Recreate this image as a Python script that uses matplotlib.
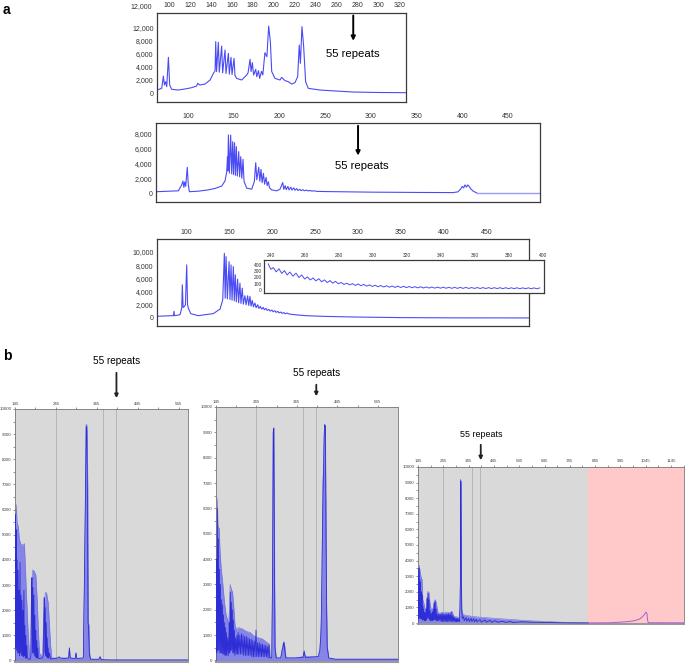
import matplotlib
matplotlib.use('Agg')
import matplotlib.pyplot as plt
from matplotlib.transforms import blended_transform_factory

plt.rcParams['font.family'] = ['Liberation Sans', 'DejaVu Sans']

# ---- panel a, top trace (size in bp, signal) ----
a1_trace = [(88.5, 460), (91, 600), (93, 720), (94.6, 2600), (95.6, 1230), (96.8, 1740), (97.8, 970),
            (99.4, 5490), (100.6, 1230), (102.5, 570), (108.9, 460), (115.3, 620), (121.6, 820),
            (126.4, 1070), (127.3, 1490), (129.5, 1230), (134.4, 1380), (139.2, 2000), (142.4, 3030),
            (144.0, 3400), (144.6, 7900), (145.4, 3300), (147.1, 7800), (148.0, 3200), (150.3, 7230),
            (151.2, 3100), (153.5, 6610), (154.4, 3000), (156.7, 6100), (157.6, 2900), (159.2, 5490),
            (160.2, 2850), (162.1, 5330), (163.0, 2700), (164.6, 2250), (169.4, 2000), (174.2, 2770),
            (175.5, 3100), (177.4, 5180), (178.4, 3300), (179.6, 4670), (180.8, 2770), (182.8, 3640),
            (183.8, 2510), (185.4, 3430), (186.6, 2250), (188.3, 3330), (189.6, 2770), (191.6, 6200),
            (193.5, 5590), (195.2, 10300), (196.8, 7900), (198.1, 3300), (201.2, 2250), (206, 2000),
            (207.6, 2400), (210.8, 1900), (214, 1740), (217.2, 1380), (220.3, 1590), (222.9, 2510),
            (224.4, 7380), (225.5, 4560), (227, 10200), (228.6, 7180), (230.5, 1740), (233, 720),
            (244, 460), (260, 300), (276, 150), (300, 80), (326, 50)]

# ---- panel a, middle trace ----
a2_trace = [(65.5, 180), (89.4, 300), (93.1, 1080), (94.5, 1630), (95.5, 770), (96.5, 1500), (97.5, 900),
            (99.2, 3490), (100.3, 1200), (101.5, 180), (111.3, 250), (122.3, 430), (129.6, 620),
            (136.9, 950), (140.5, 1630), (142.4, 2890), (143.2, 4900), (143.6, 3000), (144.2, 7860),
            (145.3, 2700), (146.7, 7860), (147.8, 2600), (148.9, 6960), (149.8, 2500), (150.9, 6830),
            (151.9, 2400), (152.9, 6290), (154.0, 2300), (155.5, 5610), (156.5, 2200), (157.7, 4930),
            (158.9, 2000), (160.2, 4570), (161.3, 1600), (164.2, 660), (169.7, 520), (172.6, 1560),
            (174.1, 4110), (175.3, 1800), (177.4, 3480), (178.6, 1600), (179.9, 3210), (181.1, 1400),
            (182.5, 2670), (183.8, 1200), (185.4, 2120), (186.6, 1000), (187.9, 1530), (189.2, 700),
            (191.6, 430), (197, 300), (200.7, 520), (203.6, 1420), (204.8, 500), (206.3, 1000),
            (207.5, 450), (209.3, 900), (210.5, 420), (212.5, 800), (213.7, 400), (215.8, 700),
            (217, 380), (219, 600), (220.2, 350), (222.3, 500), (223.5, 330), (226, 450), (227.2, 300),
            (230, 400), (231.3, 280), (234, 350), (235.3, 260), (238.5, 300), (240, 230), (250, 200),
            (300, 120), (350, 80), (390, 60), (395, 150), (398, 500), (400, 900), (401.5, 700),
            (403, 1100), (404.5, 800), (406, 1100), (407.5, 900), (409, 600), (412, 250), (416, 0)]
a2_tail = [(416, 0), (485, 0)]

# ---- panel a, bottom trace ----
a3_trace = [(65, 260), (82.5, 350), (84.5, 350), (85.1, 1010), (85.8, 350), (92.2, 500), (94.2, 1500),
            (94.9, 5030), (95.8, 1600), (97, 1700), (98.5, 2000), (100, 8050), (101, 2000), (101.9, 1510),
            (104.7, 660), (113.6, 350), (121.4, 500), (131.1, 660), (139, 1360), (142.1, 2760),
            (144, 9800), (145, 3000), (146, 9300), (147.5, 2900), (149.5, 8540), (150.6, 2800),
            (151.8, 8040), (153, 2700), (154.5, 7790), (155.6, 2600), (156.8, 6540), (158, 2450),
            (159.5, 5880), (160.7, 2300), (162.2, 5280), (163.4, 2200), (164.9, 4520), (166.2, 2100),
            (168, 3370), (169.4, 2000), (171.2, 3370), (172.5, 1900), (173.9, 3270), (175.2, 1800),
            (176.6, 2660), (178, 1700), (179.7, 2260), (181.1, 1550), (182.9, 2010), (184.3, 1450),
            (186, 1760), (187.5, 1350), (189.3, 1600), (190.7, 1250), (192.5, 1450), (194, 1150),
            (196, 1300), (197.5, 1050), (199.5, 1200), (201, 950), (203, 1100), (204.5, 850),
            (206.5, 1000), (208, 780), (210, 900), (211.5, 700), (213.5, 820), (215, 640), (217, 750),
            (220, 600), (225, 520), (230, 450), (240, 350), (260, 250), (295, 150), (350, 60),
            (411, 20), (500, 10)]

# inset: repeat peaks 240-400 bp
inset_peak_x = [238.5, 241.5, 244.8, 248, 251.2, 254.8, 258.2, 261.5, 264.8, 268.2, 271.5, 274.8, 278,
                281.3, 284.7, 288, 291.3, 294.6, 298, 301.3, 304.6, 308, 311.3, 314.6, 318, 321.3,
                324.6, 328, 331.3, 334.6, 338, 341.3, 344.6, 348, 351.3, 354.6, 358, 361.3, 364.6,
                368, 371.3, 374.6, 378, 381.3, 384.6, 388, 391.3, 394.6, 398]
inset_peak_y = [418, 358, 340, 310, 287, 269, 239, 209, 191, 179, 161, 149, 137, 119, 107, 100, 95, 88,
                80, 75, 70, 66, 62, 60, 58, 55, 52, 50, 48, 47, 45, 44, 42, 41, 40, 40, 38, 38, 37,
                36, 36, 35, 35, 34, 34, 33, 33, 32, 32]
inset_valley_y = [330, 290, 265, 240, 220, 200, 175, 160, 145, 130, 118, 108, 98, 88, 80, 72, 66, 60,
                  55, 50, 46, 43, 40, 38, 36, 34, 32, 30, 29, 28, 27, 26, 25, 24, 24, 23, 23, 22, 22,
                  21, 21, 20, 20, 20, 19, 19, 19, 18, 18]

# ---- panel b traces ----
b1_env = [(145, 0), (146, 5000), (148, 6200), (150, 5500), (153, 5300), (156, 4800), (160, 4600),
          (165, 4600), (168, 4650), (172, 3000), (176, 1500), (180, 300), (183, 100), (186, 3000),
          (188, 3600), (192, 3550), (196, 3400), (199, 2500), (202, 1200), (205, 300), (212, 150),
          (216, 2000), (219, 2700), (222, 2700), (226, 2300), (229, 1500), (232, 600), (235, 100),
          (250, 100), (265, 100), (276, 100), (278, 500), (280, 100), (292, 80), (294, 300), (296, 80),
          (312, 100), (315, 3600), (317, 6300), (319, 9400), (321, 9350), (323, 7000), (324.5, 1500),
          (326, 1400), (327.5, 300), (330, 50), (350, 50), (353, 150), (356, 30), (380, 20), (568, 20)]
b1_dark = [(145, 0), (146, 5800), (146.8, 500), (148, 5200), (148.8, 400), (150.3, 4000), (151.2, 300),
           (152.6, 3600), (153.5, 300), (155, 2800), (155.8, 200), (157.3, 3900), (158.2, 300),
           (159.7, 2600), (160.6, 200), (162, 2400), (162.9, 200), (164.4, 2000), (165.3, 150),
           (166.8, 2800), (167.7, 200), (169.2, 1400), (170.1, 100), (171.6, 1000), (172.5, 100),
           (174, 600), (175, 100), (178, 50), (182, 50), (184, 200), (185, 2200), (186.5, 3300),
           (187.4, 300), (188.8, 2900), (189.7, 300), (191.2, 2600), (192.1, 200), (193.6, 1800),
           (194.5, 150), (196, 1200), (196.9, 100), (198.4, 800), (199.3, 100), (200.8, 500), (202, 80),
           (205, 80), (212, 100), (214, 200), (215.5, 1800), (216.5, 2500), (218, 300), (218.9, 2100),
           (220.4, 200), (221.3, 1500), (222.8, 150), (223.7, 900), (225.2, 100), (226.1, 500),
           (227.6, 80), (229, 300), (232, 60), (240, 80), (250, 100), (253, 150), (255, 100), (265, 80),
           (276, 100), (278, 500), (280, 100), (292, 80), (294, 300), (296, 80), (312, 100),
           (315, 3600), (317, 6300), (319, 9300), (320.5, 9200), (322, 6500), (323.5, 1500),
           (324.5, 1400), (325.5, 900), (327, 200), (330, 50), (350, 50), (353, 150), (356, 30),
           (380, 20), (568, 20)]

b2_env = [(145, 0), (146, 4500), (148, 6400), (150, 5300), (153, 5200), (155, 4300), (158, 3600),
          (162, 3000), (166, 2300), (170, 1800), (174, 1600), (176, 1300), (178, 2000), (180, 3000),
          (183, 2800), (186, 2700), (189, 2100), (192, 1400), (196, 1200), (200, 1300), (210, 1250),
          (220, 1150), (230, 1100), (240, 950), (250, 900), (260, 850), (268, 750), (272, 700),
          (277, 650), (279, 100), (283, 100), (285, 4000), (286.5, 9100), (288, 9200), (289.5, 5000),
          (291, 600), (294, 100), (305, 100), (310, 600), (313, 750), (316, 500), (318, 100),
          (340, 100), (360, 150), (363, 400), (366, 150), (398, 150), (402, 500), (405, 1500),
          (407, 3400), (409, 7000), (411, 7700), (412.5, 9000), (414, 9300), (415.5, 9250),
          (417, 6000), (418.5, 2300), (420, 600), (424, 100), (440, 50), (595, 50)]
b2_dark = [(145, 0), (146, 4000), (147, 300), (148.5, 6000), (149.5, 400), (151, 4800), (152, 400),
           (153.5, 3600), (154.5, 300), (156, 3000), (157, 300), (158.5, 2400), (159.5, 300),
           (161, 2200), (162, 250), (163.5, 1800), (164.5, 250), (166, 1500), (167, 200), (168.5, 1300),
           (169.5, 200), (171, 1100), (172, 200), (174, 900), (175.5, 200), (178, 1500), (179, 300),
           (180.5, 2700), (181.5, 400), (183, 2300), (184, 400), (185.5, 2000), (186.5, 300),
           (188, 1600), (189, 300), (190.5, 1200), (191.5, 200), (193.5, 900), (195, 250), (197, 1000),
           (198, 250), (200, 1100), (201.5, 250), (204, 1000), (205.5, 250), (208, 1050), (209.5, 250),
           (212, 1000), (213.5, 200), (216, 950), (217.5, 200), (220, 950), (221.5, 200), (224, 900),
           (225.5, 200), (228, 850), (229.5, 200), (232, 850), (233.5, 150), (236, 800), (237.5, 150),
           (240, 750), (241.5, 150), (244, 1200), (245.5, 150), (248, 700), (249.5, 150), (252, 700),
           (253.5, 150), (256, 650), (257.5, 150), (260, 650), (261.5, 150), (264, 600), (265.5, 150),
           (268, 600), (269.5, 150), (272, 550), (273.5, 100), (276, 600), (278, 100), (283, 100),
           (285, 3600), (286.5, 9000), (288, 9150), (289.5, 4000), (291, 500), (294, 100), (305, 100),
           (310, 500), (312, 600), (313, 700), (315, 400), (318, 100), (340, 100), (360, 120),
           (363, 350), (366, 120), (398, 150), (402, 400), (405, 1200), (407, 3400), (409, 6000),
           (411, 7500), (412.5, 8800), (414, 9300), (415.5, 9200), (417, 5000), (418.5, 2200),
           (420, 500), (424, 100), (440, 50), (595, 50)]

b3_env = [(145, 0), (147, 3000), (150, 3700), (154, 3200), (158, 2900), (161, 2800), (164, 1500),
          (168, 1300), (172, 900), (176, 800), (180, 1500), (184, 2000), (188, 2000), (192, 1300),
          (198, 800), (204, 900), (210, 1400), (214, 1500), (218, 1200), (224, 700), (230, 600),
          (240, 700), (250, 650), (260, 700), (270, 650), (280, 750), (285, 500), (290, 400),
          (300, 400), (306, 300), (310, 500), (312, 2500), (313.5, 9200), (315, 9100), (316.5, 3000),
          (318, 900), (321, 600), (330, 500), (372, 400), (451, 300), (520, 220), (583, 150),
          (650, 100), (715, 50), (817, 10)]
b3_dark = [(145, 0), (146, 3000), (147, 300), (149, 3500), (150, 400), (152, 2800), (153, 300),
           (155, 2600), (156, 300), (158, 2000), (159, 300), (161, 1800), (162, 200), (164, 1100),
           (165, 200), (167, 900), (168, 200), (170, 700), (171, 150), (173, 600), (174, 150),
           (177, 900), (178, 200), (181, 1600), (182, 300), (185, 1900), (186, 300), (189, 1500),
           (190, 200), (193, 800), (194, 150), (197, 600), (198, 150), (201, 700), (202, 150),
           (205, 900), (206, 200), (209, 1300), (210, 200), (213, 1400), (214, 200), (217, 900),
           (218, 150), (221, 600), (222, 150), (226, 550), (227, 150), (231, 550), (232, 150),
           (236, 600), (237, 100), (241, 600), (242, 100), (246, 550), (247, 100), (251, 550),
           (252, 100), (256, 600), (257, 100), (261, 550), (262, 100), (266, 600), (267, 100),
           (271, 550), (272, 100), (276, 700), (277, 100), (281, 500), (282, 100), (286, 400),
           (287, 100), (291, 350), (292, 80), (296, 300), (297, 80), (301, 300), (302, 80), (306, 250),
           (308, 100), (311, 900), (312.5, 2500), (313.5, 9100), (315, 9000), (316.5, 2500),
           (318, 800), (320, 300), (325, 400), (328, 150), (335, 350), (338, 120), (345, 300),
           (348, 100), (355, 300), (358, 100), (365, 280), (368, 80), (375, 250), (378, 80), (390, 220),
           (395, 60), (410, 200), (415, 60), (430, 180), (435, 50), (450, 150), (460, 50), (480, 120),
           (490, 40), (510, 100), (520, 30), (550, 80), (600, 50), (650, 40), (700, 20), (760, 10),
           (817, 5)]
b3_pink = [(817, 10), (900, 15), (950, 60), (980, 100), (1000, 150), (1020, 250), (1032, 400),
           (1040, 550), (1046, 700), (1050, 600), (1052, 200), (1055, 20), (1196, 10)]

b_gridlines = [245, 360, 392]
repeat55_b = 393
repeat55_a = [276, 286]

BLUE = '#4b4bf5'
ENV = '#8585e6'
DARK = '#2e2ed6'


def xy(pts):
    return [p[0] for p in pts], [p[1] for p in pts]


def style_a(ax, xticks, yticks, ylabels):
    ax.xaxis.tick_top()
    ax.set_xticks(xticks)
    ax.set_yticks(yticks)
    ax.set_yticklabels(ylabels)
    ax.tick_params(length=0, labelsize=5, pad=2.5, colors='#333333')
    for s in ax.spines.values():
        s.set_color('#3a3a3a')
        s.set_linewidth(0.9)


def style_b(ax, xmax):
    ax.set_facecolor('#d9d9d9')
    ax.xaxis.tick_top()
    ax.set_xticks(range(145, xmax, 100))
    ax.set_xticks(range(195, xmax, 100), minor=True)
    ax.set_yticks(range(0, 10001, 1000))
    ax.set_yticks(range(500, 10000, 1000), minor=True)
    ax.tick_params(which='both', length=1.5, width=0.4, labelsize=3.2, pad=1.0, colors='#444444')
    for s in ax.spines.values():
        s.set_color('#777777')
        s.set_linewidth(0.6)
    ax.spines['bottom'].set_linewidth(1.5)
    ax.spines['bottom'].set_color('#9a9a9a')
    for g in b_gridlines:
        ax.axvline(g, color='#b0b0b0', lw=0.6, zorder=1)


fig = plt.figure(figsize=(6.85, 6.65), dpi=100)

# ---------- a: top ----------
ax1 = fig.add_axes([0.2292, 0.8466, 0.3635, 0.1343])
x, y = xy(a1_trace)
ax1.plot(x, y, color=BLUE, lw=0.8)
ax1.set_xlim(88.5, 326.4)
ax1.set_ylim(-1385, 12350)
style_a(ax1, range(100, 321, 20), range(0, 10001, 2000),
        ['0', '2,000', '4,000', '6,000', '8,000', '12,000'])
tr = blended_transform_factory(ax1.transAxes, ax1.transData)
ax1.text(-0.02, 13300, '12,000', transform=tr, ha='right', va='center', fontsize=5,
         color='#333333', clip_on=False)
ax1.annotate('', xy=(repeat55_a[0], 7600), xytext=(repeat55_a[0], 12350),
             arrowprops=dict(arrowstyle='-|>', lw=1.4, color='black', mutation_scale=6))
ax1.text(repeat55_a[0], 6000, '55 repeats', ha='center', va='center', fontsize=8.2)

# ---------- a: middle ----------
ax2 = fig.add_axes([0.2277, 0.6962, 0.5606, 0.1188])
x, y = xy(a2_trace)
ax2.plot(x, y, color=BLUE, lw=0.8)
x, y = xy(a2_tail)
ax2.plot(x, y, color='#9a9af8', lw=1.0)
ax2.set_xlim(65, 485)
ax2.set_ylim(-1220, 9490)
style_a(ax2, range(100, 451, 50), range(0, 8001, 2000),
        ['0', '2,000', '4,000', '6,000', '8,000'])
ax2.annotate('', xy=(repeat55_a[1], 4700), xytext=(repeat55_a[1], 9490),
             arrowprops=dict(arrowstyle='-|>', lw=1.4, color='black', mutation_scale=6))
ax2.text(repeat55_a[1] + 4, 3650, '55 repeats', ha='center', va='center', fontsize=8.2)

# ---------- a: bottom ----------
ax3 = fig.add_axes([0.2292, 0.5098, 0.5431, 0.1308])
x, y = xy(a3_trace)
ax3.plot(x, y, color=BLUE, lw=0.8)
ax3.set_xlim(65.3, 500)
ax3.set_ylim(-1210, 11970)
style_a(ax3, range(100, 451, 50), range(0, 10001, 2000),
        ['0', '2,000', '4,000', '6,000', '8,000', '10,000'])

axi = fig.add_axes([0.3854, 0.5594, 0.4088, 0.0496])
ix, iy = [], []
for k in range(len(inset_peak_x)):
    ix.append(inset_peak_x[k])
    iy.append(inset_peak_y[k])
    if k + 1 < len(inset_peak_x):
        ix.append((inset_peak_x[k] + inset_peak_x[k + 1]) / 2)
        iy.append(inset_valley_y[k])
axi.plot(ix, iy, color=BLUE, lw=0.7)
axi.set_xlim(236, 400.5)
axi.set_ylim(-50, 480)
style_a(axi, range(240, 401, 20), range(0, 401, 100), ['0', '100', '200', '300', '400'])
axi.tick_params(labelsize=3.5, pad=1.5)

# ---------- b ----------
panels = [
    ([0.0219, 0.0045, 0.2526, 0.3805], 568, b1_env, b1_dark, 1.154, 1.032, 1.19, 7.2),
    ([0.3153, 0.0045, 0.2657, 0.3835], 595, b2_env, b2_dark, 1.098, 1.031, 1.133, 7.2),
    ([0.6102, 0.0617, 0.3883, 0.2361], 1196, b3_env, b3_dark, 1.159, 1.025, 1.204, 6.4),
]
for rect, xmax, env, dark, y0, y1, yt, fs in panels:
    ax = fig.add_axes(rect)
    style_b(ax, xmax)
    if xmax > 1000:
        ax.axvspan(817, xmax, color='#ffc9c9', zorder=0.5)
        x, y = xy(b3_pink)
        ax.plot(x, y, color='#b05ad8', lw=0.7, zorder=3)
    x, y = xy(env)
    ax.fill_between(x, 0, y, color=ENV, lw=0, zorder=2)
    ax.plot(x, y, color='#7070e0', lw=0.4, zorder=2)
    x, y = xy(dark)
    ax.plot(x, y, color=DARK, lw=0.6, zorder=3)
    ax.set_xlim(145, xmax)
    ax.set_ylim(-60, 10000)
    ax.annotate('', xy=(repeat55_b, y1), xytext=(repeat55_b, y0),
                xycoords=('data', 'axes fraction'), textcoords=('data', 'axes fraction'),
                arrowprops=dict(arrowstyle='-|>', lw=1.3, color='#222222', mutation_scale=5))
    ax.text(repeat55_b, yt, '55 repeats', transform=blended_transform_factory(ax.transData, ax.transAxes),
            ha='center', va='center', fontsize=fs)

fig.text(0.004, 0.996, 'a', fontsize=10, weight='bold', va='top')
fig.text(0.004, 0.475, 'b', fontsize=10, weight='bold', va='top')

fig.savefig('out.png', dpi=100)
